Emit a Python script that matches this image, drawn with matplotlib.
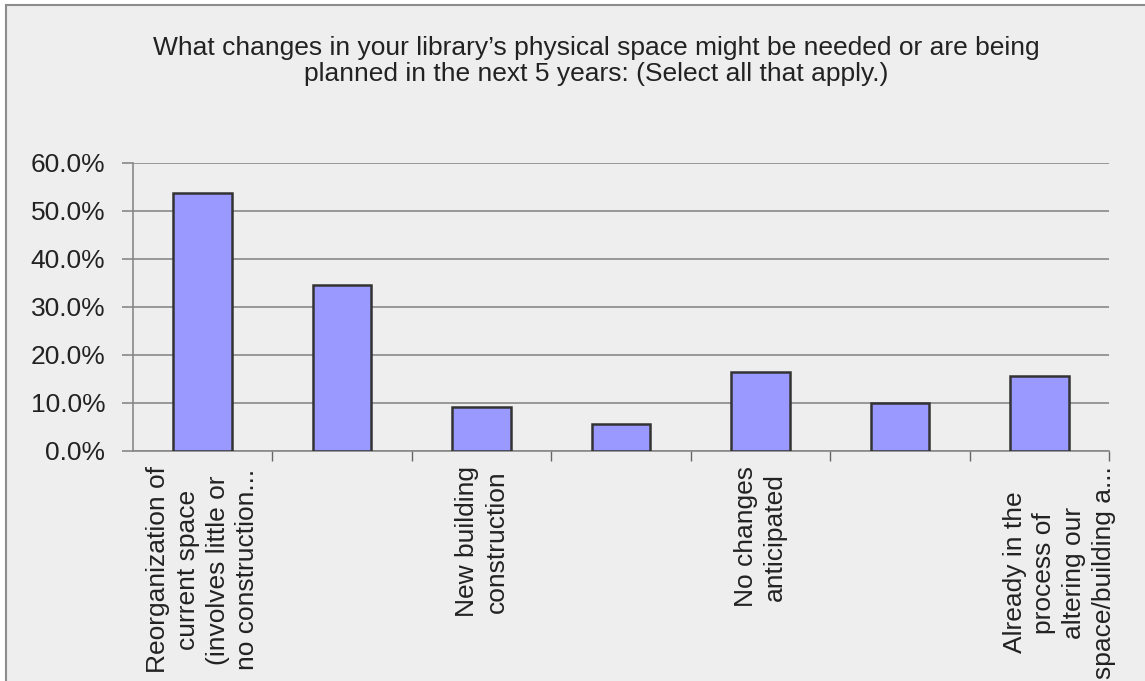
import matplotlib
matplotlib.use("Agg")
import matplotlib.pyplot as plt
from matplotlib.patches import Rectangle
from matplotlib.ticker import FuncFormatter, FixedLocator
from matplotlib.transforms import ScaledTranslation

plt.rcParams['font.family'] = ['Liberation Sans', 'DejaVu Sans']

# Survey results (share of respondents per answer)
title = ("What changes in your library\u2019s physical space might be needed or are being\n"
         "planned in the next 5 years: (Select all that apply.)")
labels = [
    "Reorganization of\ncurrent space\n(involves little or\nno construction...",
    "",
    "New building\nconstruction",
    "",
    "No changes\nanticipated",
    "",
    "Already in the\nprocess of\naltering our\nspace/building a...",
]
shares = [0.537, 0.346, 0.092, 0.056, 0.164, 0.101, 0.156]
y_ticks = [0.0, 0.1, 0.2, 0.3, 0.4, 0.5, 0.6]

W, H = 1145, 681
fig = plt.figure(figsize=(W / 100, H / 100), dpi=100)
fig.patch.set_facecolor("white")

# chart area panel with grey border (runs off the bottom and right)
fig.patches.append(Rectangle((6 / W, -0.1), 1.2, (H - 5) / H + 0.1,
                             transform=fig.transFigure, facecolor="#EEEEEE",
                             edgecolor="#8C8C8C", linewidth=1.5, zorder=-5))

fig.text(596 / W, 1 - 61 / H, title, ha="center", va="center", fontsize=19,
         color="#222222", linespacing=1.1)

ax = fig.add_axes([133 / W, (H - 451) / H, (1109 - 133) / W, (451 - 163) / H])
ax.set_facecolor("none")

x = range(len(shares))
ax.bar(x, shares, width=0.42, color="#9999FF", edgecolor="#333333",
       linewidth=1.8, zorder=3)

ax.set_xlim(-0.5, len(shares) - 0.5)
ax.set_ylim(0, 0.6)
ax.set_yticks(y_ticks)
ax.yaxis.set_major_formatter(FuncFormatter(lambda v, _: f"{v * 100:.1f}%"))
ax.yaxis.grid(True, color="#888888", linewidth=1.2, zorder=1)
ax.set_axisbelow(True)

ax.set_xticks(list(x))
ax.set_xticklabels(labels, rotation=90, ha="center", va="top",
                   multialignment="center", fontsize=19, color="#222222",
                   linespacing=1.3)
ax.xaxis.set_minor_locator(FixedLocator([i + 0.5 for i in range(len(shares))]))
ax.tick_params(axis="x", which="major", length=0, pad=11)
ax.tick_params(axis="x", which="minor", length=7, width=1, color="#666666",
               direction="out")
ax.tick_params(axis="y", length=8, width=1.2, color="#888888",
               labelsize=19, labelcolor="#222222", pad=12)

# the last label sits a little to the right of its bar
last = ax.get_xticklabels()[-1]
last.set_transform(last.get_transform() + ScaledTranslation(0.2, 0, fig.dpi_scale_trans))

for side in ("top", "right"):
    ax.spines[side].set_visible(False)
for side in ("left", "bottom"):
    ax.spines[side].set_color("#888888")
    ax.spines[side].set_linewidth(1.2)

fig.savefig("out.png", dpi=100)
